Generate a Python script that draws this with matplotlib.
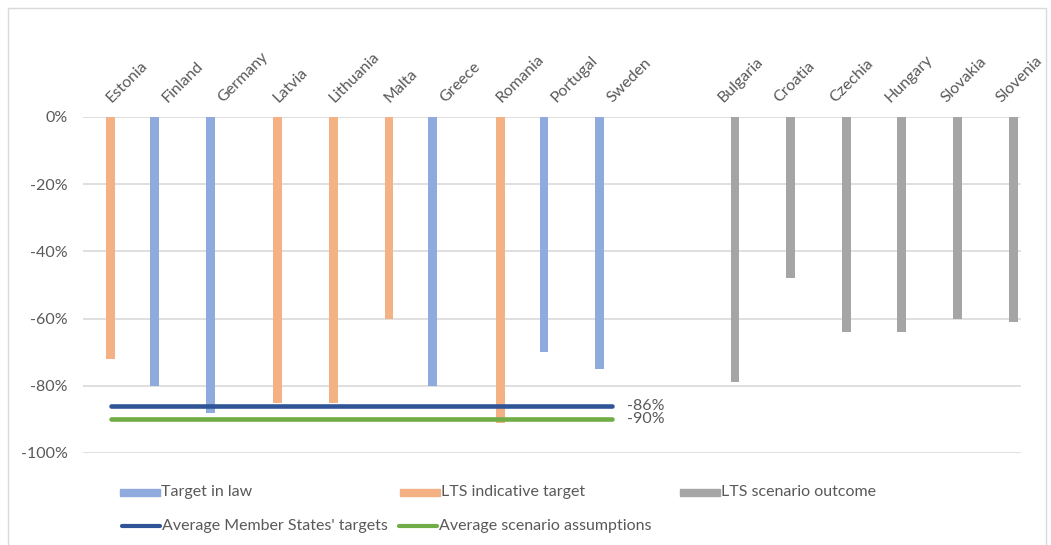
import numpy as np
import matplotlib
matplotlib.use("Agg")
import matplotlib.pyplot as plt
from matplotlib.patches import Rectangle
from matplotlib.lines import Line2D

nan = np.nan
categories = ["Estonia", "Finland", "Germany", "Latvia", "Lithuania", "Malta", "Greece",
              "Romania", "Portugal", "Sweden", "", "Bulgaria", "Croatia", "Czechia",
              "Hungary", "Slovakia", "Slovenia"]
target_in_law = [nan, -80, -88, nan, nan, nan, -80, nan, -70, -75, nan, nan, nan, nan, nan, nan, nan]
lts_indicative = [-72, nan, nan, -85, -85, -60, nan, -91, nan, nan, nan, nan, nan, nan, nan, nan, nan]
lts_scenario = [nan, nan, nan, nan, nan, nan, nan, nan, nan, nan, nan, -79, -48, -64, -64, -60, -61]
avg_ms_targets = -86
avg_scenario = -90
avg_span = ["Estonia", "Sweden"]
yticks = [0, -20, -40, -60, -80, -100]

plt.rcParams['font.family'] = ['Lato', 'DejaVu Sans']
FS = 11.5
TXT = '#595959'
C_BLUE = '#8FAADC'
C_ORANGE = '#F4B183'
C_GRAY = '#A5A5A5'
C_DBLUE = '#2F5597'
C_GREEN = '#70AD47'

W, H = 1051, 545
fig = plt.figure(figsize=(W / 100, H / 100), dpi=100)
left, right, top, bottom = 83, 1029, 117, 453
ax = fig.add_axes([left / W, 1 - bottom / H, (right - left) / W, (bottom - top) / H])

x = np.arange(len(categories))
bw = 0.157
off = 0.215
ax.bar(x - off, target_in_law, width=bw, color=C_BLUE, zorder=3)
ax.bar(x, lts_indicative, width=bw, color=C_ORANGE, zorder=3)
ax.bar(x + off, lts_scenario, width=bw, color=C_GRAY, zorder=3)

i0, i1 = categories.index(avg_span[0]), categories.index(avg_span[1])
ax.plot([i0, i1], [avg_ms_targets] * 2, color=C_DBLUE, lw=3.3, solid_capstyle='round', zorder=4)
ax.plot([i0, i1], [avg_scenario] * 2, color=C_GREEN, lw=3.3, solid_capstyle='round', zorder=4)
ax.annotate(f"{avg_ms_targets}%", xy=(i1, avg_ms_targets), xytext=(11, 0), textcoords='offset points',
            ha='left', va='center', fontsize=FS, color=TXT)
ax.annotate(f"{avg_scenario}%", xy=(i1, avg_scenario), xytext=(11, 0), textcoords='offset points',
            ha='left', va='center', fontsize=FS, color=TXT)

ax.set_xlim(-0.5, len(categories) - 0.5)
ax.set_ylim(-100, 0)
ax.set_yticks(yticks)
ax.set_yticklabels([f"{v}%" for v in yticks], fontsize=FS, color=TXT)
ax.tick_params(axis='y', length=0, pad=11)
ax.set_xticks([])
for s in ax.spines.values():
    s.set_visible(False)
for v in yticks:
    ax.axhline(v, xmin=-0.003, xmax=0.99, color='#D9D9D9', lw=1.2, zorder=1)

for i, c in enumerate(categories):
    if c:
        ax.annotate(c, xy=(i, 0), xytext=(0.5, 10), textcoords='offset points',
                    rotation=45, rotation_mode='anchor', ha='left', va='baseline',
                    fontsize=FS, color=TXT, annotation_clip=False)

# legend (manual)
def fy(py):
    return 1 - py / H

def patch(px, py, color, label):
    fig.patches.append(Rectangle((px / W, fy(py + 3.5)), 40 / W, 7 / H, color=color,
                                 transform=fig.transFigure))
    fig.text((px + 41) / W, fy(py), label, fontsize=FS, color=TXT, va='center', ha='left')

def lline(px, py, color, label):
    fig.lines.append(Line2D([(px + 2) / W, (px + 40) / W], [fy(py), fy(py)], color=color, lw=3,
                            solid_capstyle='round', transform=fig.transFigure))
    fig.text((px + 42) / W, fy(py), label, fontsize=FS, color=TXT, va='center', ha='left')

patch(120, 492, C_BLUE, "Target in law")
patch(400, 492, C_ORANGE, "LTS indicative target")
patch(680, 492, C_GRAY, "LTS scenario outcome")
lline(120, 526, C_DBLUE, "Average Member States' targets")
lline(397, 526, C_GREEN, "Average scenario assumptions")

fig.patches.append(Rectangle((8 / W, -0.01), (1046 - 8) / W, fy(8) + 0.01, fill=False,
                             edgecolor='#D9D9D9', lw=1, transform=fig.transFigure))

fig.savefig("out.png", dpi=100)
